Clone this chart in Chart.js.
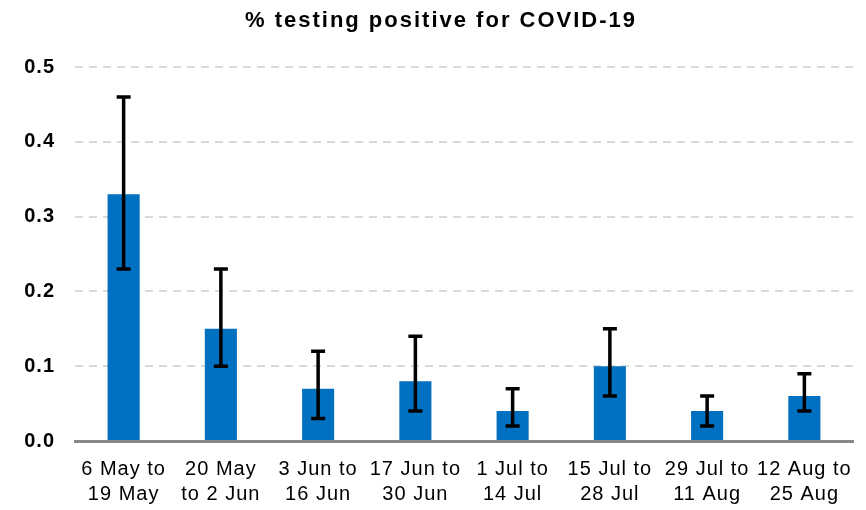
<!DOCTYPE html>
<html>
<head>
<meta charset="utf-8">
<script src="https://cdn.jsdelivr.net/npm/chart.js@4"></script>
<style>
html,body{margin:0;padding:0;background:#fff;}
#wrap{width:866px;height:510px;position:relative;}
</style>
</head>
<body>
<div id="wrap"><canvas id="c"></canvas></div>
<script>
const titleText = '% testing positive for COVID-19';
const categories = [
  ["6 May to","19 May"],["20 May","to 2 Jun"],["3 Jun to","16 Jun"],["17 Jun to","30 Jun"],
  ["1 Jul to","14 Jul"],["15 Jul to","28 Jul"],["29 Jul to","11 Aug"],["12 Aug to","25 Aug"]
];
const positiveRate = [0.33, 0.15, 0.07, 0.08, 0.04, 0.10, 0.04, 0.06];
const lowerCI = [0.23, 0.10, 0.03, 0.04, 0.02, 0.06, 0.02, 0.04];
const upperCI = [0.46, 0.23, 0.12, 0.14, 0.07, 0.15, 0.06, 0.09];
const yTicks = [0.0, 0.1, 0.2, 0.3, 0.4, 0.5];

const FONT = 'Liberation Sans, Arial, sans-serif';

const spacing = {
  id: 'spacing',
  beforeDraw(chart) { chart.ctx.letterSpacing = '1px'; },
  afterDraw(chart) {
    const ctx = chart.ctx;
    ctx.save();
    ctx.letterSpacing = '2px';
    ctx.fillStyle = '#000';
    ctx.font = 'bold 22px ' + FONT;
    ctx.textAlign = 'center';
    ctx.textBaseline = 'middle';
    ctx.fillText(titleText, 441, 21);
    ctx.restore();
    ctx.letterSpacing = '0px';
  }
};

const errorBars = {
  id: 'errorBars',
  afterDatasetsDraw(chart) {
    const ctx = chart.ctx;
    const meta = chart.getDatasetMeta(0);
    const y = chart.scales.y;
    ctx.save();
    ctx.strokeStyle = '#000';
    ctx.lineWidth = 3.5;
    meta.data.forEach((bar, i) => {
      const x = bar.x;
      const yl = y.getPixelForValue(lowerCI[i]);
      const yh = y.getPixelForValue(upperCI[i]);
      ctx.beginPath();
      ctx.moveTo(x, yl); ctx.lineTo(x, yh);
      ctx.moveTo(x - 7, yl); ctx.lineTo(x + 7, yl);
      ctx.moveTo(x - 7, yh); ctx.lineTo(x + 7, yh);
      ctx.stroke();
    });
    ctx.restore();
  }
};

new Chart(document.getElementById('c'), {
  type: 'bar',
  data: {
    labels: categories,
    datasets: [{
      data: positiveRate,
      backgroundColor: '#0070c0',
      categoryPercentage: 1,
      barPercentage: 0.33
    }]
  },
  options: {
    responsive: true,
    maintainAspectRatio: false,
    animation: false,
    layout: { padding: { left: 0, right: 13, top: 67, bottom: 0 } },
    plugins: {
      legend: { display: false },
      tooltip: { enabled: false },
      title: { display: false }
    },
    scales: {
      x: {
        afterFit(axis) { axis.height = 69; },
        grid: { display: false },
        border: { color: '#898989', width: 3 },
        ticks: {
          color: '#000',
          maxRotation: 0,
          autoSkip: false,
          padding: 8,
          font: { family: FONT, size: 20, lineHeight: 1.25 }
        }
      },
      y: {
        min: 0, max: 0.5,
        afterFit(axis) { axis.width = 75; },
        afterBuildTicks(axis) { axis.ticks = yTicks.map(v => ({ value: v })); },
        border: { display: false, dash: [8, 6] },
        grid: { color: '#d9d9d9', lineWidth: 2, drawTicks: false },
        ticks: {
          color: '#000',
          padding: 20,
          font: { family: FONT, size: 20, weight: 'bold' },
          callback: (v) => Number(v).toFixed(1)
        }
      }
    }
  },
  plugins: [spacing, errorBars]
});
</script>
</body>
</html>
